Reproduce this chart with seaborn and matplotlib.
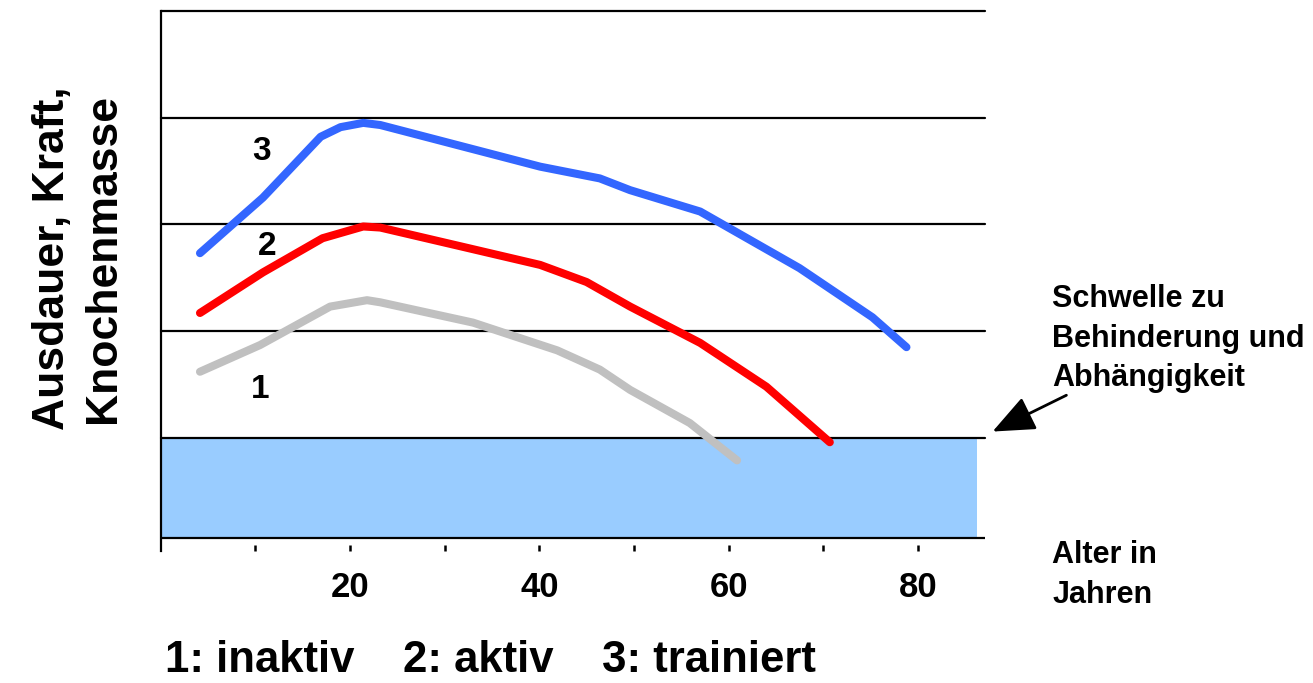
import matplotlib
matplotlib.use("Agg")
import matplotlib.pyplot as plt
import seaborn as sns

# ages (years) and level for each group
age_trainiert = [4.15, 10.8, 16.9, 19.0, 21.4, 23.2, 40.1, 46.4, 49.6, 57.0, 67.5, 75.2, 78.8]
val_trainiert = [2.73, 3.25, 3.82, 3.91, 3.95, 3.93, 3.54, 3.43, 3.32, 3.12, 2.59, 2.13, 1.85]

age_aktiv = [4.15, 10.8, 17.1, 21.4, 23.2, 31.9, 40.1, 45.0, 49.6, 57.0, 64.0, 70.7]
val_aktiv = [2.17, 2.55, 2.87, 2.98, 2.97, 2.79, 2.62, 2.46, 2.23, 1.89, 1.48, 0.96]

age_inaktiv = [4.15, 10.5, 17.9, 21.8, 23.2, 33.0, 41.9, 46.4, 49.6, 55.9, 60.9]
val_inaktiv = [1.62, 1.87, 2.23, 2.29, 2.27, 2.08, 1.82, 1.64, 1.45, 1.14, 0.79]

grid_levels = [1, 2, 3, 4, 5]
base_level = 0.06
threshold = 1
x_ticks = [10, 20, 30, 40, 50, 60, 70, 80]
x_labels = ["", "20", "", "40", "", "60", "", "80"]

sns.set_style("white")
plt.rcParams["font.family"] = ["Liberation Sans", "DejaVu Sans"]
plt.rcParams["font.weight"] = "bold"
plt.rcParams["text.color"] = "black"

fig = plt.figure(figsize=(13.13, 6.83), dpi=100)
ax = fig.add_axes([0.1224, 0.193, 0.6278, 0.7913])

# threshold band and horizontal rules
ax.axhspan(base_level, threshold, xmin=0, xmax=0.99, color="#99ccff", lw=0)
ax.axhline(base_level, color="black", lw=1.6)
for g in grid_levels:
    ax.axhline(g, color="black", lw=1.6, clip_on=False)

sns.lineplot(x=age_inaktiv, y=val_inaktiv, ax=ax, color="#c0c0c0", lw=5.8,
             sort=False, solid_capstyle="round", solid_joinstyle="round")
sns.lineplot(x=age_aktiv, y=val_aktiv, ax=ax, color="#ff0000", lw=5.8,
             sort=False, solid_capstyle="round", solid_joinstyle="round")
sns.lineplot(x=age_trainiert, y=val_trainiert, ax=ax, color="#3366ff", lw=5.8,
             sort=False, solid_capstyle="round", solid_joinstyle="round")

ax.text(10.7, 3.68, "3", fontsize=24, fontweight="bold", ha="center", va="center")
ax.text(11.2, 2.79, "2", fontsize=24, fontweight="bold", ha="center", va="center")
ax.text(10.5, 1.45, "1", fontsize=24, fontweight="bold", ha="center", va="center")

ax.set_xlim(0, 87.1)
ax.set_ylim(-0.06, 5)
ax.set_yticks([])
ax.set_xticks(x_ticks)
ax.set_xticklabels(x_labels, fontsize=25, fontweight="bold", color="black")
ax.tick_params(axis="x", bottom=True, direction="in", length=4, width=1.8, pad=14,
               colors="black")
for s in ["top", "right", "bottom"]:
    ax.spines[s].set_visible(False)
ax.spines["left"].set_color("black")
ax.spines["left"].set_linewidth(1.6)

ax.text(94.2, 1.93, "Schwelle zu\nBehinderung und\nAbhängigkeit", fontsize=22,
        fontweight="bold", ha="left", va="center", linespacing=1.42, clip_on=False)
ax.annotate("", xy=(87.9, 1.06), xytext=(95.7, 1.40), annotation_clip=False,
            arrowprops=dict(arrowstyle="-|>,head_length=1.3,head_width=0.55",
                            color="black", lw=2, mutation_scale=20, shrinkA=0, shrinkB=0))
ax.text(94.2, -0.28, "Alter in\nJahren", fontsize=22, fontweight="bold",
        ha="left", va="center", linespacing=1.42, clip_on=False)

fig.text(78 / 1313, 1 - 258 / 683, "Ausdauer, Kraft,\nKnochenmasse", rotation=90,
         fontsize=32, fontweight="bold", ha="center", va="center",
         multialignment="center", linespacing=1.3)
fig.text(165 / 1313, 1 - 661 / 683, "1: inaktiv    2: aktiv    3: trainiert",
         fontsize=31.5, fontweight="bold", ha="left", va="center")

fig.savefig("out.png", dpi=100)
